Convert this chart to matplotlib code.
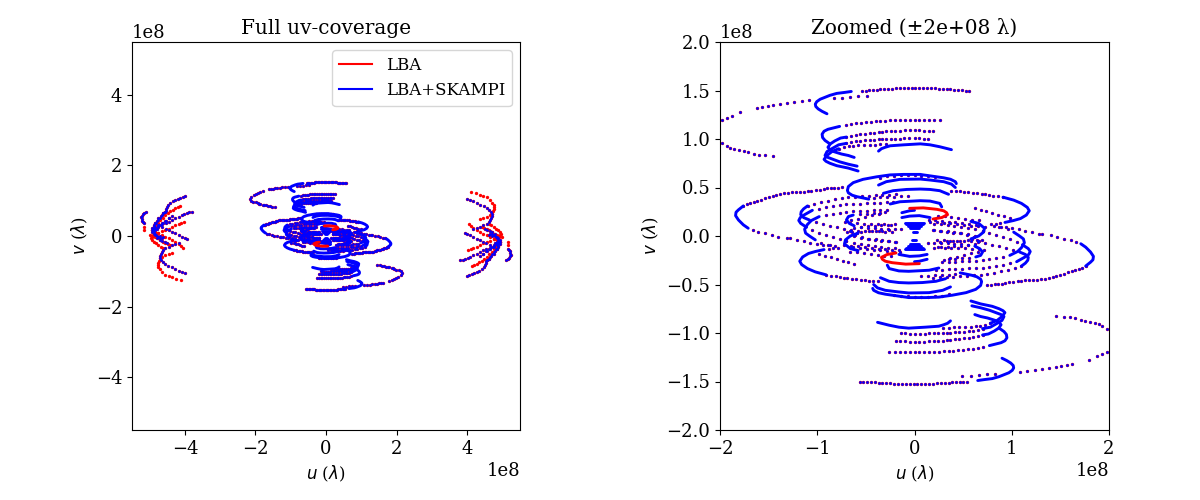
import matplotlib
matplotlib.use('Agg')
import matplotlib.pyplot as plt
import numpy as np

plt.rcParams['font.family'] = 'DejaVu Serif'
plt.rcParams['font.size'] = 13

# uv tracks in units of 1e8 wavelengths, one half of the plane only.
# The conjugate half (-u, -v) is added when plotting.

# sparse tracks, drawn as separate dots
far_upper = [(-1.98,1.20),(-1.93,1.22),(-1.88,1.24),(-1.79,1.28),(-1.62,1.32),(-1.57,1.33),(-1.51,1.34),(-1.45,1.35),(-1.38,1.36),(-1.31,1.37),(-1.24,1.38),(-1.16,1.39),(-1.08,1.40),(-.83,1.42),(-.75,1.42),(-.66,1.43),(-.58,1.44),(-.49,1.44)]
far_lower = [(-2.05,1.15),(-2.12,1.10),(-2.16,1.05),(-2.14,1.00),(-2.08,.97),(-1.98,.955),(-1.93,.93),(-1.90,.91),(-1.86,.90),(-1.80,.89),(-1.75,.88),(-1.71,.87),(-1.65,.85),(-1.60,.84),(-1.54,.83),(-1.46,.82)]
top_row = [(-.54,1.50),(-.50,1.50),(-.47,1.505),(-.43,1.51),(-.39,1.51),(-.35,1.515),(-.31,1.52),(-.27,1.52),(-.23,1.52),(-.19,1.525),(-.15,1.525),(-.11,1.53),(-.07,1.53),(-.03,1.53),(.01,1.53),(.05,1.53),(.09,1.53),(.13,1.53),(.17,1.525),(.21,1.525),(.25,1.52),(.29,1.52),(.33,1.515),(.37,1.515),(.41,1.51),(.45,1.51),(.49,1.505),(.53,1.50),(.56,1.50)]
row_120 = [(-.70,1.145),(-.65,1.15),(-.60,1.16),(-.55,1.17),(-.50,1.175),(-.45,1.18),(-.40,1.185),(-.35,1.19),(-.30,1.19),(-.25,1.195),(-.20,1.195),(-.15,1.20),(-.10,1.20),(-.05,1.20),(0,1.20),(.05,1.20),(.10,1.20),(.15,1.20),(.20,1.20),(.26,1.195)]
row_108 = [(-.70,1.02),(-.65,1.035),(-.60,1.045),(-.56,1.05),(-.51,1.055),(-.46,1.06),(-.42,1.065),(-.37,1.07),(-.33,1.075),(-.29,1.08),(-.24,1.08),(-.20,1.085),(-.15,1.085),(-.10,1.09),(-.05,1.09),(0,1.09),(.05,1.09),(.10,1.085),(.15,1.08),(.19,1.08)]
row_100 = [(-.70,.955),(-.65,.965),(-.60,.975),(-.56,.98),(-.51,.985),(-.46,.99),(-.42,.99),(-.37,.995),(-.33,1.0),(-.29,1.0),(-.24,1.005),(-.20,1.005),(-.15,1.005),(-.11,1.007),(-.06,1.007),(0,1.007),(.05,1.007),(.10,1.005),(.14,1.0)]
row_094 = [(-.78,.90),(-.72,.915),(-.67,.925),(-.63,.93),(-.58,.935),(-.52,.935),(-.46,.94),(-.41,.94),(-.35,.945),(-.29,.945)]
ring_out_up = [(-1.76,.31),(-1.72,.325),(-1.69,.336),(-1.65,.35),(-1.62,.36),(-1.58,.375),(-1.54,.39),(-1.50,.40),(-1.46,.41),(-1.42,.42),(-1.38,.43),(-1.34,.44),(-1.30,.446),(-1.26,.45),(-1.22,.453),(-1.18,.455),(-1.14,.456),(-1.10,.46),(-1.06,.467),(-1.01,.472),(-.97,.477),(-.93,.485),(-.90,.49),(-.86,.492),(-.83,.494),(-.79,.50),(-.75,.51)]
ring_out_low = [(-1.66,.06),(-1.61,.044),(-1.54,.027),(-1.47,.01),(-1.40,-.007),(-1.31,-.025),(-1.28,-.024),(-1.21,-.04),(-1.14,-.05),(-1.07,-.07),(-1.0,-.08),(-.94,-.09),(-.87,-.095)]
ring_in_up = [(.38,.46),(.43,.46),(.47,.46),(.51,.455),(.55,.45),(.60,.445),(.64,.44),(.69,.435),(.73,.43),(.77,.42),(.81,.415),(.86,.41),(.91,.40)]
ring_in_low = [(.88,.13),(.84,.12),(.79,.12)]
hook_a_up = [(-1.10,.31),(-1.03,.335),(-.96,.35),(-.89,.365),(-.82,.38),(-.75,.39),(-.68,.40),(-.61,.405),(-.54,.41),(-.47,.415),(-.40,.42),(-.33,.42),(-.26,.425),(-.19,.43)]
hook_a_low = [(-1.01,.145),(-.94,.125),(-.87,.105),(-.80,.09),(-.73,.07),(-.66,.05),(-.59,.035)]
hook_b_up = [(-.98,.28),(-.91,.295),(-.84,.31),(-.77,.32),(-.70,.325),(-.63,.33),(-.56,.335),(-.49,.34),(-.42,.345),(-.35,.345),(-.28,.35),(-.22,.355)]
hook_b_low = [(-1.05,.06),(-.98,.03),(-.91,.01),(-.84,-.01),(-.77,-.03),(-.70,-.05)]
hook_c_up = [(-.91,.215),(-.84,.23),(-.77,.24),(-.70,.25),(-.63,.255),(-.56,.26),(-.49,.26),(-.42,.265),(-.35,.265),(-.28,.265)]
hook_c_low = [(-.96,-.07),(-.89,-.09),(-.82,-.105)]
inner_up = [(-.56,.225),(-.49,.23),(-.42,.235),(-.35,.24),(-.30,.245)]
inner_low = [(-.55,.09),(-.48,.085),(-.41,.08),(-.34,.075),(-.27,.07),(-.20,.07),(-.14,.07)]
inner_mid = [(-.65,.06),(-.58,.055),(-.51,.055),(-.44,.05),(-.37,.05),(-.30,.045),(-.23,.045)]
inner_neg = [(-.62,0),(-.55,-.02),(-.48,-.03),(-.41,-.04),(-.34,-.05),(-.27,-.055),(-.20,-.06)]
inner_neg2 = [(-.63,-.11),(-.56,-.12),(-.49,-.13),(-.42,-.14),(-.35,-.145),(-.28,-.15),(-.21,-.16),(-.15,-.165)]
inner_neg3 = [(-.70,-.05),(-.62,-.07),(-.55,-.08),(-.48,-.09),(-.41,-.10),(-.34,-.11),(-.27,-.12),(-.20,-.12)]
inner_neg4 = [(-.66,-.16),(-.59,-.17),(-.52,-.18),(-.45,-.19),(-.38,-.20),(-.31,-.205),(-.24,-.21)]
inner_pos = [(-.66,.13),(-.59,.13),(-.52,.125),(-.45,.125),(-.38,.12),(-.31,.12),(-.24,.115)]
right_a = [(.16,.147),(.23,.14),(.30,.135),(.37,.13),(.44,.125),(.51,.115),(.58,.105),(.65,.10),(.72,.09)]
right_b = [(.19,.06),(.26,.05),(.33,.044),(.40,.035),(.47,.027),(.54,.01),(.61,-.007),(.69,-.04)]
right_c = [(.26,-.06),(.33,-.055),(.40,-.05),(.47,-.05),(.55,-.045),(.64,-.04)]
right_d = [(.37,-.23),(.44,-.215),(.51,-.20),(.58,-.18),(.65,-.165),(.71,-.145)]
right_e = [(.20,-.12),(.27,-.115),(.34,-.11),(.41,-.105),(.48,-.10),(.55,-.09),(.62,-.08)]
upper_a = [(-.35,.60),(-.28,.615),(-.21,.62),(-.14,.625),(-.07,.625),(0,.625),(.07,.62),(.14,.615),(.21,.61)]
upper_b = [(-.42,.395),(-.35,.40),(-.28,.405),(-.21,.405),(-.14,.41),(-.07,.41)]
upper_c = [(.62,.285),(.68,.27),(.74,.255),(.80,.24),(.86,.22),(.92,.205),(.98,.19)]

# long baselines seen by both arrays, left-hand cluster
lb_a = [(-3.99,1.13),(-4.06,1.10),(-4.13,1.08),(-4.21,1.05),(-4.28,1.02),(-4.35,.98),(-4.42,.94),(-4.47,.89),(-4.51,.83),(-4.53,.77),(-4.53,.72),(-4.57,.68),(-4.61,.64),(-4.68,.57),(-4.75,.50),(-4.80,.43),(-4.84,.36),(-4.87,.29),(-4.89,.22)]
lb_b = [(-3.80,.69),(-3.87,.67),(-3.94,.64),(-4.02,.62),(-4.09,.59),(-4.18,.55),(-4.28,.50),(-4.37,.45),(-4.46,.41),(-4.53,.38),(-4.61,.36),(-4.68,.31),(-4.75,.26),(-4.80,.21),(-4.84,.17)]
lb_c = [(-5.11,.67),(-5.15,.65),(-5.19,.62),(-5.22,.57),(-5.24,.53),(-5.23,.48),(-5.21,.43),(-5.18,.39),(-5.15,.36)]
lb_d = [(-3.93,-.09),(-4.01,-.05),(-4.09,-.02),(-4.18,.03),(-4.28,.08),(-4.37,.12),(-4.46,.17),(-4.55,.21),(-4.65,.26),(-4.74,.31),(-4.84,.36)]
lb_e = [(-4.18,-.21),(-4.27,-.23),(-4.37,-.26),(-4.46,-.30),(-4.56,-.35),(-4.61,-.39),(-4.65,-.44),(-4.69,-.50),(-4.72,-.57),(-4.71,-.63),(-4.68,-.68),(-4.62,-.74),(-4.56,-.79),(-4.47,-.84),(-4.37,-.89),(-4.27,-.94),(-4.18,-.98),(-4.08,-1.01),(-3.99,-1.04)]
lb_f = [(-4.56,.69),(-4.61,.64),(-4.65,.59),(-4.71,.52),(-4.77,.45),(-4.83,.38),(-4.89,.31),(-4.92,.24),(-4.94,.17),(-4.92,.12),(-4.88,.07),(-4.82,.02),(-4.75,-.02),(-4.70,-.05),(-4.65,-.07)]
lb_g = [(-4.46,.50),(-4.55,.43),(-4.65,.37),(-4.75,.31),(-4.84,.26),(-4.88,.20),(-4.90,.14),(-4.86,.07),(-4.80,0),(-4.70,-.01),(-4.61,-.02)]
lb_h = [(-4.37,.58),(-4.46,.50),(-4.56,.42),(-4.65,.35),(-4.75,.28),(-4.82,.19),(-4.88,.10),(-4.85,.03),(-4.80,-.05),(-4.72,-.10),(-4.65,-.15),(-4.57,-.18),(-4.50,-.20)]

# tracks seen only by the smaller array
lba_a = [(-4.13,.85),(-4.20,.81),(-4.28,.78),(-4.35,.75),(-4.42,.72),(-4.49,.66),(-4.56,.59),(-4.63,.52),(-4.70,.45),(-4.77,.38),(-4.84,.31),(-4.89,.24),(-4.94,.17)]
lba_b = [(-4.02,.41),(-4.10,.38),(-4.18,.34),(-4.27,.30),(-4.37,.25),(-4.46,.21),(-4.56,.17),(-4.65,.13),(-4.75,.08),(-4.85,.02),(-4.94,-.02)]
lba_c = [(-4.04,-.33),(-4.11,-.28),(-4.18,-.24),(-4.27,-.17),(-4.37,-.11),(-4.46,-.06),(-4.56,-.02),(-4.65,.03),(-4.75,.08),(-4.84,.12),(-4.94,.17)]
lba_d = [(-4.37,-.47),(-4.46,-.50),(-4.56,-.54),(-4.65,-.59),(-4.70,-.63),(-4.74,-.70),(-4.76,-.77),(-4.77,-.83),(-4.76,-.89),(-4.70,-.94),(-4.65,-1.01),(-4.56,-1.10),(-4.46,-1.14),(-4.37,-1.17),(-4.25,-1.21),(-4.12,-1.26)]
lba_e = [(-5.15,.26),(-5.15,.17)]
lba_f = [(-4.98,.03),(-4.96,-.07),(-4.93,-.12),(-4.89,-.16),(-4.82,-.21),(-4.75,-.25),(-4.68,-.30),(-4.61,-.35)]
lba_g = [(-4.90,.03),(-4.84,-.02),(-4.77,-.07),(-4.70,-.11),(-4.63,-.16),(-4.56,-.21),(-4.49,-.24),(-4.42,-.26)]

dot_tracks = [far_upper, far_lower, top_row, row_120, row_108, row_100, row_094,
              ring_out_up, ring_out_low, ring_in_up, ring_in_low,
              hook_a_up, hook_a_low, hook_b_up, hook_b_low, hook_c_up, hook_c_low,
              inner_up, inner_low, inner_mid, inner_neg, inner_neg2, inner_neg3, inner_neg4, inner_pos,
              right_a, right_b, right_c, right_d, right_e, upper_a, upper_b, upper_c,
              lb_a, lb_b, lb_c, lb_d, lb_e, lb_f, lb_g, lb_h]
lba_tracks = [lba_a, lba_b, lba_c, lba_d, lba_e, lba_f, lba_g]

# closely sampled stretches, the dots overlap into a solid band
band_top = [(-.90,1.26),(-.95,1.285),(-.99,1.31),(-1.015,1.335),(-1.02,1.36),(-1.005,1.385),(-.97,1.41),(-.92,1.43),(-.87,1.45),(-.80,1.47),(-.72,1.48),(-.65,1.49)]
band_120 = [(-.77,1.13),(-.83,1.115),(-.89,1.10),(-.93,1.08),(-.95,1.05),(-.945,1.015),(-.92,.985),(-.87,.95)]
band_108 = [(-.70,1.02),(-.76,1.01),(-.82,.98),(-.865,.95),(-.89,.915),(-.87,.89),(-.83,.87),(-.75,.845),(-.68,.83),(-.62,.81)]
band_100 = [(-.70,.955),(-.78,.94),(-.85,.90),(-.90,.87),(-.92,.83),(-.89,.81),(-.85,.795),(-.77,.765),(-.68,.74),(-.59,.72)]
band_094 = [(-.78,.90),(-.85,.87),(-.90,.83),(-.93,.79),(-.91,.77),(-.87,.75),(-.80,.725),(-.68,.70),(-.58,.67)]
band_093 = [(-.37,.875),(-.34,.90),(-.30,.915),(-.25,.93),(-.11,.94),(.06,.95),(.16,.94),(.26,.92),(.38,.89)]
band_ring1 = [(-.47,.38),(-.59,.405),(-.64,.42),(-.68,.445),(-.69,.47),(-.68,.51),(-.63,.55),(-.53,.584),(-.39,.61),(-.25,.63),(-.115,.635),(.06,.635),(.09,.63),(.30,.60),(.37,.585),(.42,.56),(.43,.54)]
band_ring2 = [(-.37,.525),(-.29,.56),(-.15,.584),(.06,.587),(.16,.577),(.30,.56),(.38,.535),(.42,.50)]
band_ring3 = [(-.32,.44),(-.22,.467),(-.08,.48),(.06,.484),(.16,.48),(.26,.467),(.35,.43)]
band_ring4 = [(-.25,.33),(-.15,.353),(.06,.364),(.16,.36),(.26,.336),(.28,.30)]
band_ring5 = [(-.13,.24),(-.05,.26),(0,.265)]
band_ring6 = [(-.13,.19),(-.05,.205),(.05,.21),(.16,.19)]
band_outer = [(-1.76,.31),(-1.81,.27),(-1.835,.245),(-1.84,.21),(-1.81,.165),(-1.76,.115),(-1.71,.08)]
band_right = [(.91,.40),(1.02,.37),(1.10,.336),(1.16,.295),(1.18,.26),(1.15,.216),(1.09,.18),(1.02,.16),(.93,.14)]
band_hook_a = [(-1.10,.31),(-1.14,.28),(-1.165,.25),(-1.17,.22),(-1.14,.19),(-1.08,.165)]
band_hook_b = [(-1.05,.265),(-1.13,.22),(-1.175,.19),(-1.19,.16),(-1.17,.13),(-1.11,.09)]
band_hook_c = [(-.98,.20),(-1.06,.16),(-1.10,.12),(-1.13,.07),(-1.12,.03),(-1.08,0),(-1.02,-.04)]
band_inner = [(-.63,.216),(-.68,.20),(-.70,.165),(-.67,.13),(-.62,.105)]
band_inner2 = [(-.58,.03),(-.66,0),(-.71,-.04),(-.72,-.08),(-.66,-.13),(-.58,-.15)]
bar_137 = [(-.10,.137),(.10,.137)]
bar_120 = [(-.09,.122),(.09,.122)]
bar_110 = [(-.07,.105),(.07,.105)]
bar_080 = [(-.05,.08),(.05,.08)]
bar_045 = [(-.02,.045),(.03,.045)]

band_tracks = [band_top, band_120, band_108, band_100, band_094, band_093,
               band_ring1, band_ring2, band_ring3, band_ring4, band_ring5, band_ring6,
               band_outer, band_right, band_hook_a, band_hook_b, band_hook_c,
               band_inner, band_inner2, bar_137, bar_120, bar_110, bar_080, bar_045]
band_lba = [(-.05,.285),(.09,.29),(.23,.275),(.30,.26),(.33,.24),(.34,.22),(.28,.19),(.19,.175)]


def draw_track(ax, track, color, band=False, size=2.0):
    uv = np.array(track) * 1e8
    for sign in (1, -1):
        if band:
            ax.plot(sign * uv[:, 0], sign * uv[:, 1], color=color, lw=2.1, solid_capstyle='round')
        else:
            ax.plot(sign * uv[:, 0], sign * uv[:, 1], 'o', color=color, ms=size, mew=0)


def draw_coverage(ax):
    for track in lba_tracks + dot_tracks:
        draw_track(ax, track, 'red', size=2.4)
    for track in dot_tracks:
        draw_track(ax, track, 'blue')
    for track in band_tracks:
        draw_track(ax, track, 'blue', band=True)
    draw_track(ax, band_lba, 'red', band=True)
    ax.set_xlabel(r'$u$ ($\lambda$)', fontsize=12)
    ax.set_ylabel(r'$v$ ($\lambda$)', fontsize=12)


fig = plt.figure(figsize=(12, 5), dpi=100)
ax1 = fig.add_axes([132 / 1200, 70 / 500, 388 / 1200, 388 / 500])
ax2 = fig.add_axes([720 / 1200, 70 / 500, 389 / 1200, 388 / 500])

draw_coverage(ax1)
ax1.set_xlim(-5.5e8, 5.5e8)
ax1.set_ylim(-5.5e8, 5.5e8)
ax1.set_title('Full uv-coverage', fontsize=14.4)
ax1.plot([], [], color='red', label='LBA')
ax1.plot([], [], color='blue', label='LBA+SKAMPI')
ax1.legend(loc='upper right', fontsize=12)

draw_coverage(ax2)
ax2.set_xlim(-2e8, 2e8)
ax2.set_ylim(-2e8, 2e8)
ax2.set_title('Zoomed (±2e+08 λ)', fontsize=14.4)

fig.savefig('out.png', dpi=100)
